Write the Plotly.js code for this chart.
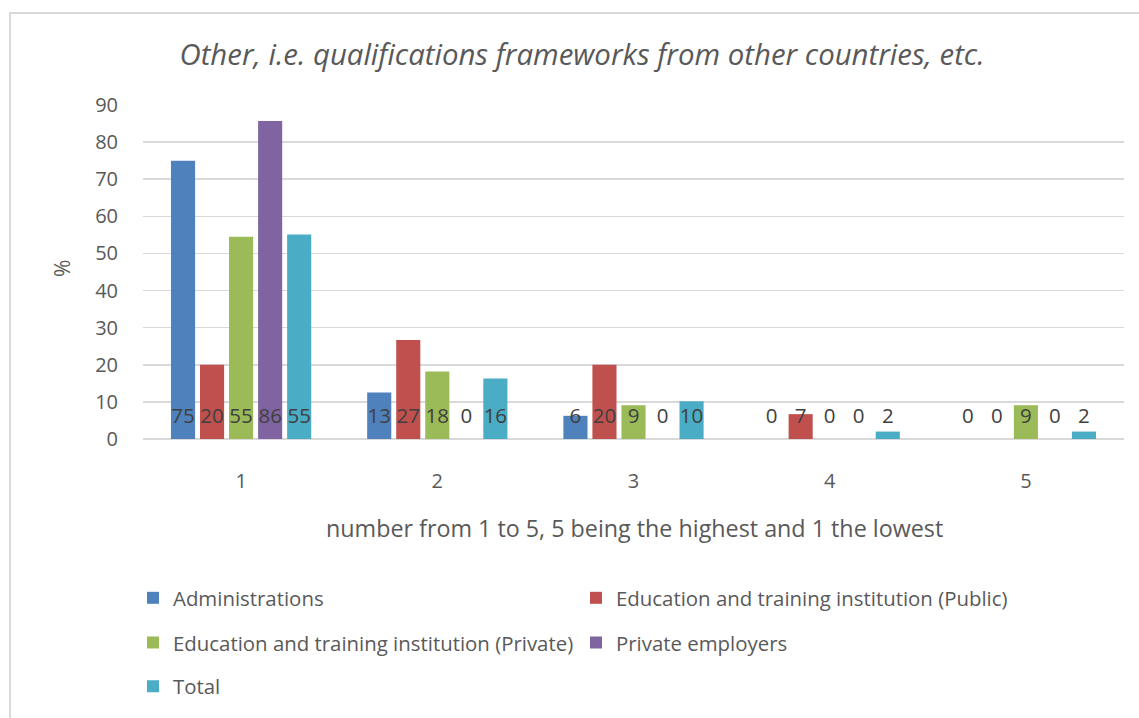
<!DOCTYPE html>
<html>
<head>
<meta charset="utf-8">
<script src="https://cdn.plot.ly/plotly-3.0.1.min.js"></script>
<style>
  html, body { margin: 0; padding: 0; background: #fff; }
  #chart { width: 1139px; height: 718px; }
  #frame { position: absolute; left: 9px; top: 12px; width: 1200px; height: 800px;
           border-left: 2px solid #d9d9d9; border-top: 2px solid #d9d9d9; pointer-events: none; }
</style>
</head>
<body>
<div id="chart"></div>
<div id="frame"></div>
<script>
// ---- data ----
const categories = ['1', '2', '3', '4', '5'];
const seriesNames = [
  'Administrations',
  'Education and training institution (Public)',
  'Education and training institution (Private)',
  'Private employers',
  'Total'
];
const administrations = [75, 12.5, 6.25, 0, 0];
const eduPublic = [20, 26.7, 20, 6.7, 0];
const eduPrivate = [54.5, 18.2, 9.1, 0, 9.1];
const privateEmployers = [85.7, 0, 0, 0, 0];
const total = [55.1, 16.3, 10.2, 2.0, 2.0];
const yTicks = [0, 10, 20, 30, 40, 50, 60, 70, 80, 90];
const chartTitle = 'Other, i.e. qualifications frameworks from other countries, etc.';
const xTitle = 'number from 1 to 5, 5 being the highest and 1 the lowest';
const yTitle = '%';

// ---- style ----
const colors = ['#4F81BD', '#C0504D', '#9BBB59', '#8064A2', '#4BACC6'];
const legendIds = ['legend', 'legend', 'legend2', 'legend2', 'legend3'];
const FONT = 'Open Sans, sans-serif';
const TXT = '#595959';
const GAP = 0.26;
const LABEL_Y = 5.6; // vertical position of data labels (inside base)

const allSeries = [administrations, eduPublic, eduPrivate, privateEmployers, total];

const traces = [];
allSeries.forEach((vals, i) => {
  traces.push({
    type: 'bar', x: categories, y: vals, name: seriesNames[i],
    marker: { color: colors[i] }, legend: legendIds[i],
    offsetgroup: 'g' + i, alignmentgroup: 'a',
    hoverinfo: 'x+y+name'
  });
});
allSeries.forEach((vals, i) => {
  traces.push({
    type: 'scatter', mode: 'text', x: categories,
    y: vals.map(() => LABEL_Y),
    text: vals.map(v => String(Math.round(v))),
    textposition: 'middle center',
    textfont: { family: FONT, size: 20.5, color: '#404040' },
    offsetgroup: 'g' + i, alignmentgroup: 'a',
    showlegend: false, hoverinfo: 'skip'
  });
});

const legendBase = {
  orientation: 'h', xanchor: 'left', yanchor: 'middle',
  font: { family: FONT, size: 20.4, color: TXT },
  entrywidth: 398, entrywidthmode: 'pixels',
  bgcolor: 'rgba(0,0,0,0)', itemclick: false, itemdoubleclick: false
};
const plotTop = 105, plotBottom = 441, plotLeft = 143, plotRight = 1124;
const ph = plotBottom - plotTop, pw = plotRight - plotLeft;
const py = p => (plotBottom - p) / ph;
const px = p => (p - plotLeft) / pw;

const layout = {
  width: 1139, height: 718,
  margin: { l: plotLeft, r: 1139 - plotRight, t: plotTop, b: 718 - plotBottom },
  paper_bgcolor: '#fff', plot_bgcolor: '#fff',
  barmode: 'group', bargap: GAP, bargroupgap: 0.17,
  scattermode: 'group', scattergap: GAP,
  font: { family: FONT, color: TXT },
  title: {
    text: '<i>' + chartTitle + '</i>',
    font: { family: FONT, size: 29.4, color: TXT },
    x: 582 / 1139, xanchor: 'center', xref: 'container',
    y: 1 - 55 / 718, yanchor: 'middle', yref: 'container'
  },
  xaxis: {
    type: 'category', showgrid: false, zeroline: false, showline: false,
    ticks: '', tickfont: { family: FONT, size: 20, color: TXT },
    ticklabelstandoff: 28, automargin: false
  },
  yaxis: {
    range: [0, 90], tickvals: yTicks, ticktext: yTicks.map(String),
    showgrid: true, gridcolor: '#d9d9d9', gridwidth: 1.5,
    zeroline: true, zerolinecolor: '#d9d9d9', zerolinewidth: 1.5,
    showline: false, ticks: '',
    tickfont: { family: FONT, size: 20, color: TXT },
    ticklabelstandoff: 24, automargin: false
  },
  annotations: [
    { text: xTitle, xref: 'paper', yref: 'paper', x: px(634), y: py(531),
      xanchor: 'center', yanchor: 'middle', showarrow: false,
      font: { family: FONT, size: 23.3, color: TXT } },
    { text: yTitle, xref: 'paper', yref: 'paper', x: px(62), y: py(270),
      xanchor: 'center', yanchor: 'middle', showarrow: false, textangle: -90,
      font: { family: FONT, size: 21, color: TXT } }
  ],
  legend: Object.assign({}, legendBase, { x: px(133), y: py(601) }),
  legend2: Object.assign({}, legendBase, { x: px(133), y: py(646) }),
  legend3: Object.assign({}, legendBase, { x: px(133), y: py(690) }),
  showlegend: true
};

Plotly.newPlot('chart', traces, layout, { displayModeBar: false, staticPlot: true });
</script>
</body>
</html>
